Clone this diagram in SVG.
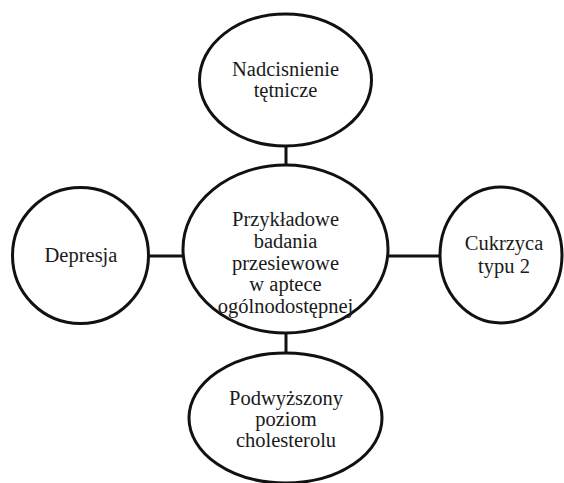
<svg xmlns="http://www.w3.org/2000/svg" width="564" height="483" viewBox="0 0 564 483">
<style>
.n{fill:#fff;stroke:#111;stroke-width:3}
.c{stroke:#111;stroke-width:3;fill:none}
text{font-family:"Liberation Serif","DejaVu Serif",serif;font-size:20.5px;fill:#1a1a1a;text-anchor:middle}
</style>
<rect width="564" height="483" fill="#fff"/>
<g id="connectors">
<line class="c" x1="286" y1="145" x2="286" y2="166"/>
<line class="c" x1="148" y1="256" x2="184" y2="256"/>
<line class="c" x1="387" y1="256" x2="440" y2="256"/>
<line class="c" x1="286" y1="332" x2="286" y2="354"/>
</g>
<g id="top">
<ellipse class="n" cx="285.5" cy="80" rx="86" ry="66"/>
<text x="285.5" y="76">Nadcisnienie</text>
<text x="285.5" y="97">tętnicze</text>
</g>
<g id="center">
<ellipse class="n" cx="285.5" cy="249" rx="102.5" ry="84"/>
<text x="285.5" y="226">Przykładowe</text>
<text x="285.5" y="248">badania</text>
<text x="285.5" y="270">przesiewowe</text>
<text x="285.5" y="291">w aptece</text>
<text x="285.5" y="313">ogólnodostępnej</text>
</g>
<g id="left">
<ellipse class="n" cx="80.5" cy="255.5" rx="68" ry="68"/>
<text x="81" y="262">Depresja</text>
</g>
<g id="right">
<ellipse class="n" cx="501" cy="255" rx="61" ry="68"/>
<text x="504" y="250">Cukrzyca</text>
<text x="504" y="273">typu 2</text>
</g>
<g id="bottom">
<ellipse class="n" cx="285.5" cy="418" rx="96.5" ry="65"/>
<text x="286" y="405">Podwyższony</text>
<text x="286" y="426">poziom</text>
<text x="286" y="447">cholesterolu</text>
</g>
</svg>
